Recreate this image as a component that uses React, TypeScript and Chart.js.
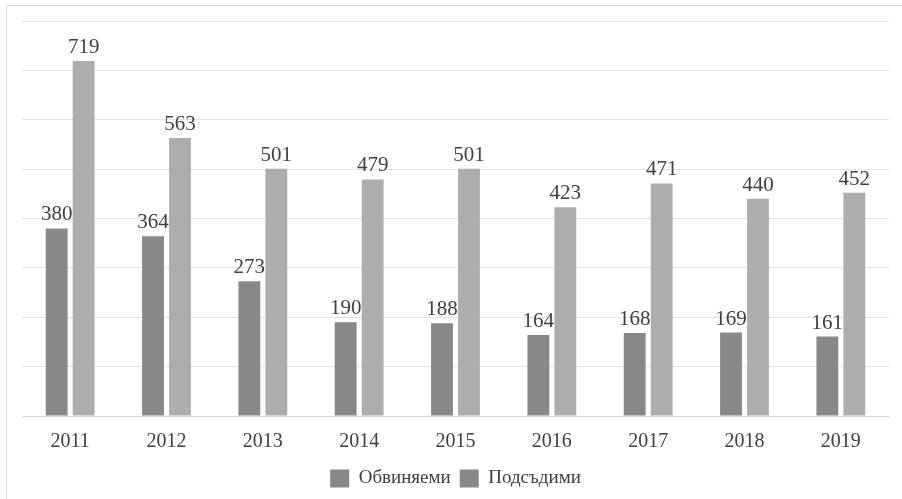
import React, { useEffect, useRef } from "react";
import { Chart, registerables } from "chart.js";

Chart.register(...registerables);

const years = ["2011", "2012", "2013", "2014", "2015", "2016", "2017", "2018", "2019"];
const accused = [380, 364, 273, 190, 188, 164, 168, 169, 161];
const defendants = [719, 563, 501, 479, 501, 423, 471, 440, 452];
const seriesNames = ["Обвиняеми", "Подсъдими"];

const FONT = "'Liberation Serif', 'Times New Roman', serif";

const valueLabels = {
  id: "valueLabels",
  afterDatasetsDraw(chart: any) {
    const ctx = chart.ctx;
    ctx.save();
    ctx.font = `21px ${FONT}`;
    ctx.fillStyle = "#404040";
    ctx.textAlign = "center";
    ctx.textBaseline = "alphabetic";
    chart.data.datasets.forEach((ds: any, i: number) => {
      const meta = chart.getDatasetMeta(i);
      meta.data.forEach((bar: any, j: number) => {
        ctx.fillText(String(ds.data[j]), bar.x, bar.y - 8);
      });
    });
    ctx.restore();
  },
};

export default function App() {
  const ref = useRef<HTMLCanvasElement>(null);
  useEffect(() => {
    const chart = new Chart(ref.current!, {
      type: "bar",
      data: {
        labels: years,
        datasets: [
          { label: seriesNames[0], data: accused, backgroundColor: "#88888b" },
          { label: seriesNames[1], data: defendants, backgroundColor: "#adadb0" },
        ],
      },
      options: {
        animation: false,
        responsive: false,
        maintainAspectRatio: false,
        layout: { padding: { left: 22, right: 13, top: 21, bottom: 1 } },
        datasets: { bar: { categoryPercentage: 0.56, barPercentage: 0.81 } },
        scales: {
          x: {
            grid: { display: false },
            border: { color: "#d9d9d9" },
            ticks: { color: "#404040", font: { family: FONT, size: 20 }, padding: 6 },
          },
          y: {
            min: 0,
            max: 800,
            ticks: { display: false, stepSize: 100 },
            grid: { color: "#e3e3e3", drawTicks: false },
            border: { display: false },
          },
        },
        plugins: {
          tooltip: { enabled: false },
          legend: {
            position: "bottom",
            labels: {
              color: "#404040",
              font: { family: FONT, size: 19 },
              boxWidth: 19,
              boxHeight: 18,
              padding: 9,
              generateLabels: (c: any) =>
                c.data.datasets.map((ds: any, i: number) => ({
                  text: ds.label,
                  fillStyle: "#88888b",
                  strokeStyle: "#88888b",
                  lineWidth: 0,
                  datasetIndex: i,
                  fontColor: "#404040",
                })),
            },
          },
        },
      },
      plugins: [valueLabels],
    });
    return () => chart.destroy();
  }, []);
  return (
    <div style={{ position: "fixed", left: 0, top: 0, width: 902, height: 499, background: "#fff" }}>
      <div
        style={{
          position: "absolute",
          left: 6,
          top: 5,
          width: 1000,
          height: 1000,
          borderLeft: "1px solid #d9d9d9",
          borderTop: "1px solid #d9d9d9",
        }}
      />
      <canvas ref={ref} width={902} height={499} style={{ position: "absolute", left: 0, top: 0 }} />
    </div>
  );
}
